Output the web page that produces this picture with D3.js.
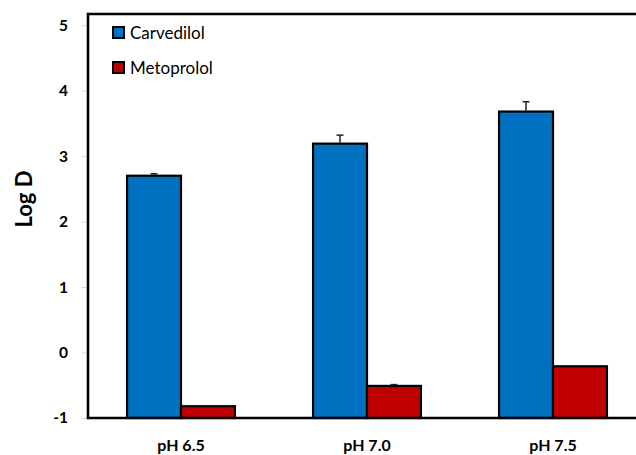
<!DOCTYPE html>
<html>
<head>
<meta charset="utf-8">
<script src="https://cdn.jsdelivr.net/npm/d3@7"></script>
<style>
  body { margin: 0; background: #fff; }
  svg { display: block; font-family: Lato, "Open Sans", sans-serif; }
</style>
</head>
<body>
<svg id="chart" width="636" height="455"></svg>
<script>
// chart data
const categories = ["pH 6.5", "pH 7.0", "pH 7.5"];
const seriesNames = ["Carvedilol", "Metoprolol"];
const carvedilol = [2.70, 3.19, 3.68];
const carvedilolErr = [0.03, 0.13, 0.15];
const metoprolol = [-0.82, -0.51, -0.21];
const metoprololErr = [0.0, 0.02, 0.0];
const yTicks = [-1, 0, 1, 2, 3, 4, 5];
const colors = ["#0070C0", "#C00000"];

const rows = categories.map((c, i) => ({
    cat: c,
    vals: [
        {name: seriesNames[0], v: carvedilol[i], e: carvedilolErr[i], color: colors[0]},
        {name: seriesNames[1], v: metoprolol[i], e: metoprololErr[i], color: colors[1]}
    ]
}));

const svg = d3.select("#chart");
const plotLeft = 88, plotTop = 14, plotBottom = 418, plotRight = 646;

const y = d3.scaleLinear().domain([-1, 5.17]).range([plotBottom, plotTop]);
const x0 = d3.scaleBand().domain(categories).range([plotLeft, plotRight])
    .paddingInner(0.42).paddingOuter(0.21);
const x1 = d3.scaleBand().domain(seriesNames).range([0, x0.bandwidth()]);

// y tick marks + labels
const yAxis = svg.append("g").attr("transform", `translate(${plotLeft},0)`)
    .call(d3.axisLeft(y).tickValues(yTicks).tickSize(6).tickPadding(14).tickFormat(d => String(d)));
yAxis.select(".domain").remove();
yAxis.selectAll(".tick line").attr("stroke", "#d9d9d9");
yAxis.selectAll(".tick text")
    .attr("font-family", "Lato, sans-serif")
    .attr("font-size", 15.5).attr("font-weight", "bold").attr("fill", "#000");

// bars
const groups = svg.selectAll("g.grp").data(rows).enter().append("g")
    .attr("class", "grp")
    .attr("transform", d => `translate(${x0(d.cat)},0)`);

groups.selectAll("rect").data(d => d.vals).enter().append("rect")
    .attr("x", d => x1(d.name))
    .attr("width", x1.bandwidth())
    .attr("y", d => y(d.v))
    .attr("height", d => y(-1) - y(d.v))
    .attr("fill", d => d.color)
    .attr("stroke", "#000").attr("stroke-width", 2.2);

// error bars (upper only)
const eb = groups.selectAll("g.err").data(d => d.vals.filter(v => v.e > 0)).enter().append("g")
    .attr("class", "err");
eb.append("line")
    .attr("x1", d => x1(d.name) + x1.bandwidth() / 2)
    .attr("x2", d => x1(d.name) + x1.bandwidth() / 2)
    .attr("y1", d => y(d.v) - 1)
    .attr("y2", d => y(d.v + d.e))
    .attr("stroke", "#222").attr("stroke-width", 1.5);
eb.append("line")
    .attr("x1", d => x1(d.name) + x1.bandwidth() / 2 - 3.5)
    .attr("x2", d => x1(d.name) + x1.bandwidth() / 2 + 3.5)
    .attr("y1", d => y(d.v + d.e))
    .attr("y2", d => y(d.v + d.e))
    .attr("stroke", "#222").attr("stroke-width", 1.5);

// plot frame: left, top, bottom
svg.append("path")
    .attr("d", `M${plotRight},${plotTop}H${plotLeft}V${plotBottom}H${plotRight}`)
    .attr("fill", "none").attr("stroke", "#000").attr("stroke-width", 2.6);

// category labels
svg.selectAll("text.cat").data(categories).enter().append("text")
    .attr("class", "cat")
    .attr("x", d => x0(d) + x0.bandwidth() / 2)
    .attr("y", 451)
    .attr("text-anchor", "middle")
    .attr("font-size", 16).attr("font-weight", "bold")
    .text(d => d);

// y title
svg.append("text")
    .attr("transform", "translate(32,199) rotate(-90)")
    .attr("text-anchor", "middle")
    .attr("font-size", 22).attr("font-weight", "bold")
    .text("Log D");

// legend
const legend = svg.append("g").attr("transform", "translate(113,27)");
const li = legend.selectAll("g").data(seriesNames).enter().append("g")
    .attr("transform", (d, i) => `translate(0,${i * 35})`);
li.append("rect")
    .attr("width", 11).attr("height", 11)
    .attr("fill", (d, i) => colors[i])
    .attr("stroke", "#000").attr("stroke-width", 2);
li.append("text")
    .attr("x", 17).attr("y", 12)
    .attr("font-size", 17)
    .text(d => d);
</script>
</body>
</html>
